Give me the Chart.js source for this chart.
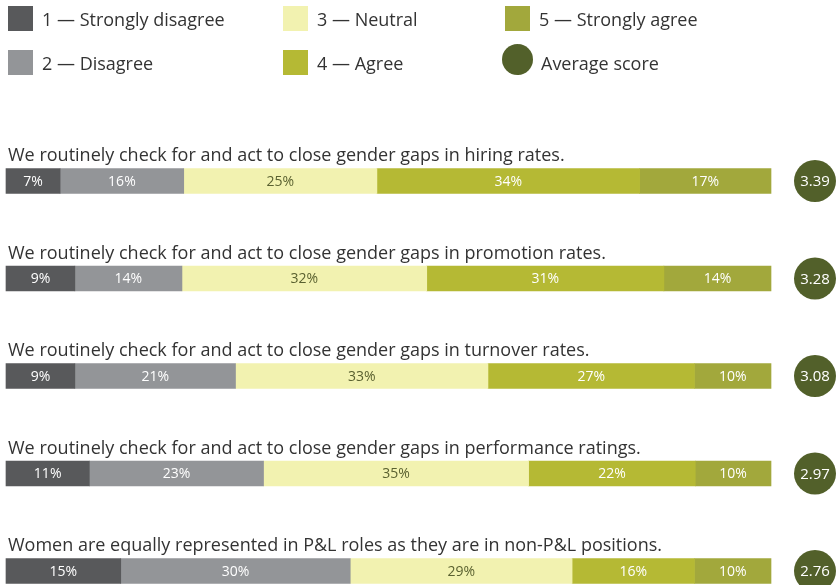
<!DOCTYPE html>
<html>
<head>
<meta charset="utf-8">
<script src="https://cdn.jsdelivr.net/npm/chart.js@4.4.1/dist/chart.umd.min.js"></script>
<style>
  html, body { margin: 0; padding: 0; background: #fff; overflow: hidden; }
  #wrap { position: relative; width: 836px; height: 585px; font-family: "Open Sans", sans-serif; color: #333; }
  #chart { position: absolute; left: 0; top: 0; }
  .lg { position: absolute; font-size: 18px; line-height: 20px; white-space: nowrap; }
  .sw { position: absolute; width: 25px; height: 25px; }
  .dot { position: absolute; width: 31px; height: 31px; border-radius: 50%; background: #52602a; }
</style>
</head>
<body>
<div id="wrap">
  <canvas id="chart" width="836" height="585"></canvas>
  <div id="legend"></div>
</div>
<script>
const statements = [
    "We routinely check for and act to close gender gaps in hiring rates.",
    "We routinely check for and act to close gender gaps in promotion rates.",
    "We routinely check for and act to close gender gaps in turnover rates.",
    "We routinely check for and act to close gender gaps in performance ratings.",
    "Women are equally represented in P&L roles as they are in non-P&L positions."
];
const responseLabels = ["1 \u2014 Strongly disagree", "2 \u2014 Disagree", "3 \u2014 Neutral", "4 \u2014 Agree", "5 \u2014 Strongly agree"];
const stronglyDisagree = [7, 9, 9, 11, 15];
const disagree = [16, 14, 21, 23, 30];
const neutral = [25, 32, 33, 35, 29];
const agree = [34, 31, 27, 22, 16];
const stronglyAgree = [17, 14, 10, 10, 10];
const averageScore = [3.39, 3.28, 3.08, 2.97, 2.76];

const colors = ["#58595b", "#939598", "#f2f2b0", "#b5b934", "#a2a83c"];
const labelColors = ["#ffffff", "#ffffff", "#5a6130", "#ffffff", "#ffffff"];
const avgColor = "#52602a";

const raw = [stronglyDisagree, disagree, neutral, agree, stronglyAgree];
// rows are drawn as full-width bars, so scale each row to its own total
const rowTotals = statements.map((_, i) => raw.reduce((s, arr) => s + arr[i], 0));

// html legend
const legendEl = document.getElementById("legend");
const legendPos = [[8, 6], [8, 50], [283, 6], [283, 50], [505, 6]];
responseLabels.forEach((txt, i) => {
    const [x, y] = legendPos[i];
    legendEl.innerHTML += `<div class="sw" style="left:${x}px;top:${y}px;background:${colors[i]}"></div>` +
        `<div class="lg" style="left:${x + 34}px;top:${y + 3}px">${txt}</div>`;
});
legendEl.innerHTML += `<div class="dot" style="left:502px;top:44px"></div>` +
    `<div class="lg" style="left:541px;top:53px">Average score</div>`;

const rowDecor = {
    id: "rowDecor",
    afterDatasetsDraw(chart) {
        const ctx = chart.ctx;
        const yScale = chart.scales.y;
        const xScale = chart.scales.x;
        ctx.save();
        // segment labels
        chart.data.datasets.forEach((ds, di) => {
            chart.getDatasetMeta(di).data.forEach((bar, i) => {
                const left = Math.min(bar.base, bar.x);
                const right = Math.max(bar.base, bar.x);
                ctx.fillStyle = labelColors[di];
                ctx.font = "14px 'Open Sans', sans-serif";
                ctx.textAlign = "center";
                ctx.textBaseline = "middle";
                ctx.fillText(ds.raw[i] + "%", (left + right) / 2, bar.y + 1);
            });
        });
        statements.forEach((txt, i) => {
            const y = yScale.getPixelForValue(i);
            ctx.fillStyle = "#333";
            ctx.font = "18px 'Open Sans', sans-serif";
            ctx.textAlign = "left";
            ctx.textBaseline = "alphabetic";
            ctx.fillText(txt, 8, y - 20);
            // average score bubble
            const cx = xScale.right + 44;
            ctx.beginPath();
            ctx.arc(cx, y, 21, 0, Math.PI * 2);
            ctx.fillStyle = avgColor;
            ctx.fill();
            ctx.fillStyle = "#fff";
            ctx.font = "15px 'Open Sans', sans-serif";
            ctx.textAlign = "center";
            ctx.textBaseline = "middle";
            ctx.fillText(averageScore[i].toFixed(2), cx, y + 1);
        });
        ctx.restore();
    }
};

new Chart(document.getElementById("chart"), {
    type: "bar",
    data: {
        labels: statements,
        datasets: responseLabels.map((lab, di) => ({
            label: lab,
            raw: raw[di],
            data: raw[di].map((v, i) => v / rowTotals[i] * 100),
            backgroundColor: colors[di],
            borderWidth: 0,
            barThickness: 25,
            clip: false
        }))
    },
    options: {
        indexAxis: "y",
        responsive: false,
        animation: false,
        layout: { padding: { left: 6, right: 65, top: 181, bottom: 14 } },
        plugins: { legend: { display: false }, tooltip: { enabled: false } },
        scales: {
            x: { stacked: true, min: 0, max: 100, display: false },
            y: { stacked: true, display: false, offset: false }
        }
    },
    plugins: [rowDecor]
});
</script>
</body>
</html>
